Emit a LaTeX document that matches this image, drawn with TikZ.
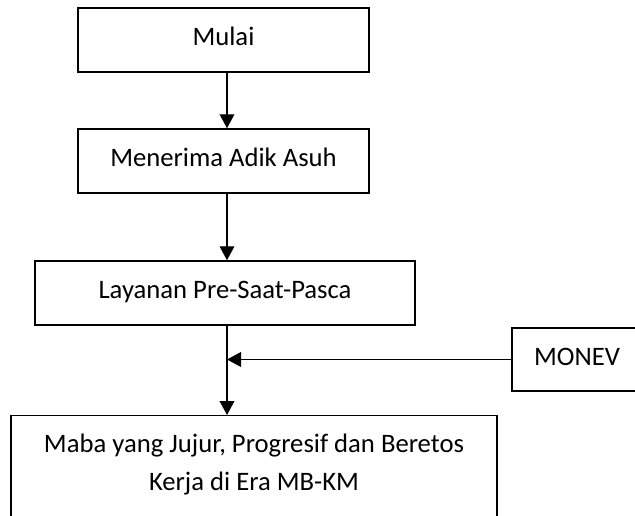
\documentclass[tikz,border=0pt]{standalone}
\usepackage{fontspec}
\setmainfont{Carlito}
\usetikzlibrary{arrows.meta}
\begin{document}
\begin{tikzpicture}[x=0.75pt,y=-0.75pt,
  box/.style={draw=black, line width=1.1pt, rectangle, inner sep=0pt,
    font=\fontsize{20pt}{28.5pt}\selectfont, text height=13pt, text depth=4.5pt},
  arr/.style={draw=black, line width=1.1pt, -{Triangle[length=10.5pt,width=11pt]}},
  ln/.style={draw=black, line width=1.1pt}]
\useasboundingbox (0,0) rectangle (635,516);
\clip (0,0) rectangle (635,516);
\fill[white] (0,0) rectangle (635,516);
\coordinate (col) at (227,0);
\node[box, minimum width=291*0.75pt, minimum height=64*0.75pt] (mulai) at (223.5,40) {Mulai};
\node[box, minimum width=291*0.75pt, minimum height=64*0.75pt] (menerima) at (223.5,161) {Menerima Adik Asuh};
\node[box, minimum width=380*0.75pt, minimum height=64*0.75pt] (layanan) at (225,293) {Layanan Pre-Saat-Pasca};
\node[box, minimum width=130*0.75pt, minimum height=63*0.75pt] (monev) at (577,359.5) {MONEV};
\node[box, anchor=north, minimum width=486*0.75pt, text width=360pt, align=flush center,
  inner ysep=14.5pt, text depth=100pt] (final) at (254,415)
  {Maba yang Jujur, Progresif dan Beretos\\Kerja di Era MB-KM};
\coordinate (j) at (227,359);
\draw[arr] (mulai.south -| col) -- (menerima.north -| col);
\draw[arr] (menerima.south -| col) -- (layanan.north -| col);
\draw[arr] (layanan.south -| col) -- (final.north -| col);
\draw[arr] (monev.west) -- (monev.west -| j);
\end{tikzpicture}
\end{document}
